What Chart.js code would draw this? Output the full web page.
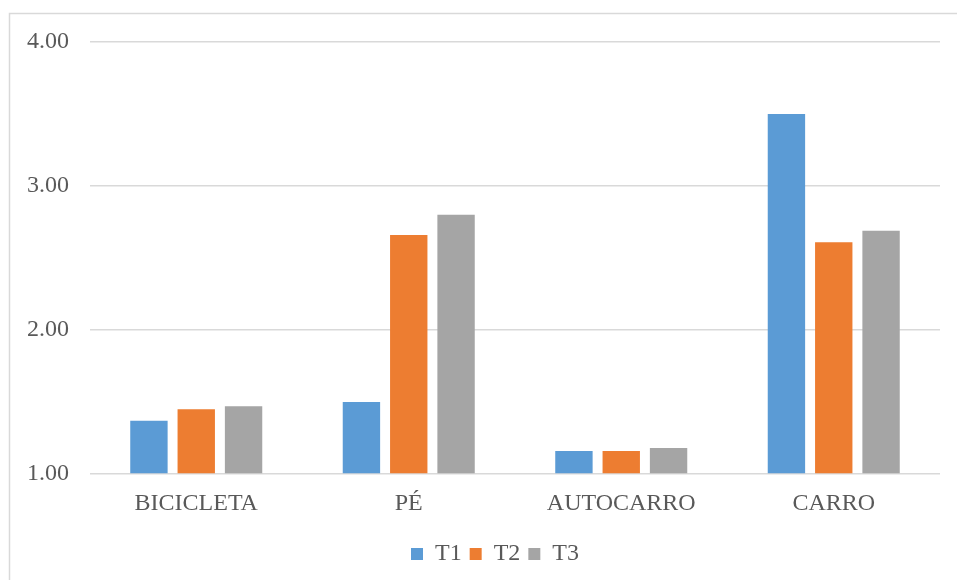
<!DOCTYPE html>
<html>
<head>
<meta charset="utf-8">
<script src="https://cdn.jsdelivr.net/npm/chart.js@4"></script>
<style>
  html, body { margin: 0; padding: 0; background: #fff; }
  #wrap { width: 957px; height: 580px; position: relative; }
</style>
</head>
<body>
<div id="wrap"><canvas id="chart"></canvas></div>
<script>
const categories = ["BICICLETA", "PÉ", "AUTOCARRO", "CARRO"];
const t1Values = [1.37, 1.50, 1.16, 3.50];
const t2Values = [1.45, 2.66, 1.16, 2.61];
const t3Values = [1.47, 2.80, 1.18, 2.69];
const yTicks = [1, 2, 3, 4];

const FONT = "'Liberation Serif', 'Times New Roman', serif";
const TEXT_COLOR = "#595959";
const GRID_COLOR = "#d9d9d9";

// outer frame of the chart (only top and left edges are visible in the picture)
const framePlugin = {
  id: "frame",
  beforeDraw(chart) {
    const ctx = chart.ctx;
    ctx.save();
    ctx.strokeStyle = GRID_COLOR;
    ctx.lineWidth = 1.5;
    ctx.beginPath();
    ctx.moveTo(9.5, chart.height + 5);
    ctx.lineTo(9.5, 13.5);
    ctx.lineTo(chart.width + 5, 13.5);
    ctx.stroke();
    ctx.restore();
  }
};

// legend in the original is centred a bit right of the canvas centre
const legendShift = {
  id: "legendShift",
  afterLayout(chart) {
    if (!chart.legend) return;
    chart.legend.left += 25;
    chart.legend.right += 25;
  }
};

function makeDataset(label, data, color) {
  return {
    label,
    data,
    backgroundColor: color,
    base: 1,
    categoryPercentage: 0.668,
    barPercentage: 0.79,
  };
}

new Chart(document.getElementById("chart"), {
  type: "bar",
  data: {
    labels: categories,
    datasets: [
      makeDataset("T1", t1Values, "#5b9bd5"),
      makeDataset("T2", t2Values, "#ed7d31"),
      makeDataset("T3", t3Values, "#a5a5a5"),
    ],
  },
  options: {
    responsive: true,
    maintainAspectRatio: false,
    animation: false,
    layout: { padding: { top: 42, right: 17, left: 0, bottom: 4 } },
    plugins: {
      tooltip: { enabled: false },
      legend: {
        position: "bottom",
        labels: {
          font: { family: FONT, size: 24 },
          color: TEXT_COLOR,
          boxWidth: 12,
          boxHeight: 12,
          padding: 8,
        },
      },
    },
    scales: {
      x: {
        grid: { display: false },
        border: { display: false },
        ticks: {
          font: { family: FONT, size: 24 },
          color: TEXT_COLOR,
          padding: 7,
        },
        afterFit(scale) { scale.height = 60; },
      },
      y: {
        min: 1,
        max: 4,
        afterBuildTicks(scale) {
          scale.ticks = yTicks.map(v => ({ value: v }));
        },
        grid: { color: GRID_COLOR, lineWidth: 1.5, drawTicks: false },
        border: { display: false },
        ticks: {
          font: { family: FONT, size: 24 },
          color: TEXT_COLOR,
          padding: 21,
          callback: v => Number(v).toFixed(2),
        },
        afterFit(scale) { scale.width = 90; },
      },
    },
  },
  plugins: [framePlugin, legendShift],
});
</script>
</body>
</html>
